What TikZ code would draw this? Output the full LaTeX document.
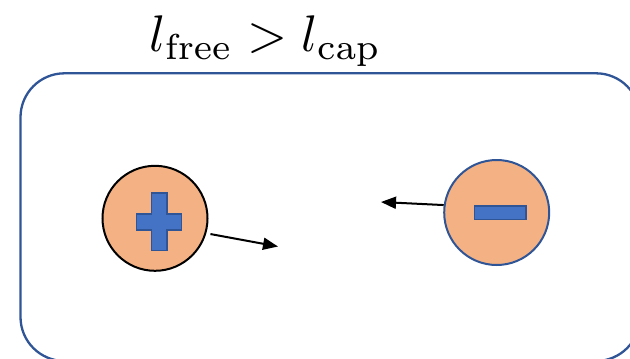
\documentclass[tikz,border=0pt]{standalone}
\usetikzlibrary{arrows.meta}
\definecolor{boxblue}{HTML}{2F5597}
\definecolor{chargefill}{HTML}{F4B183}
\definecolor{signfill}{HTML}{4472C4}
\begin{document}
\begin{tikzpicture}[x=1pt,y=-1pt,
  charge/.style={circle,draw,fill=chargefill,line width=2pt,minimum size=105pt,inner sep=0pt},
  sign/.style={fill=signfill,draw=boxblue,line width=1.4pt},
  arr/.style={-{Triangle[length=15pt,width=12pt]},line width=2pt,black}]
\useasboundingbox (0,0) rectangle (630,359);
\draw[boxblue,line width=2.3pt,rounded corners=44pt] (20.5,73.3) rectangle (640,361);
\node[scale=5.15,inner sep=0pt] (title) at (265.5,41) {$l_{\mathrm{free}} > l_{\mathrm{cap}}$};
\node[charge,draw=black] (plus) at (155,218.3) {};
\node[charge,draw=boxblue] (minus) at (496.7,212.5) {};
\draw[sign] (151.2,193) -- (166.8,193) -- (166.8,214) -- (181.5,214) -- (181.5,230) -- (166.8,230) -- (166.8,250.5) -- (151.2,250.5) -- (151.2,230) -- (136.7,230) -- (136.7,214) -- (151.2,214) -- cycle;
\draw[sign] (474.3,206) rectangle (526,219.3);
\coordinate (ptip) at (278,246.5);
\coordinate (mtip) at (381,202);
\draw[arr] ([xshift=4pt,yshift=-1pt]plus.-16) -- (ptip);
\draw[arr] (minus.172) -- (mtip);
\end{tikzpicture}
\end{document}
